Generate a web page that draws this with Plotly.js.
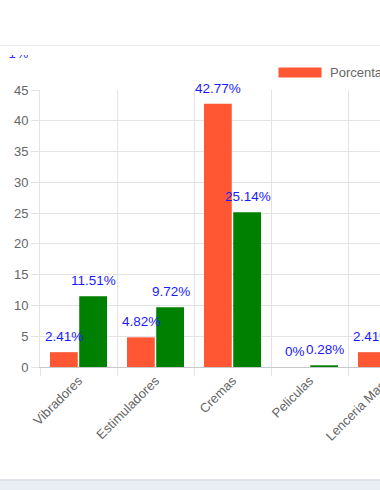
<!DOCTYPE html>
<html>
<head>
<meta charset="utf-8">
<script src="https://cdn.plot.ly/plotly-3.0.1.min.js"></script>
<style>
html,body{margin:0;padding:0;background:#fff;width:380px;height:490px;overflow:hidden;position:relative;}
#topline{position:absolute;left:0;top:45px;width:380px;height:1px;background:#ebebeb;}
#frag{position:absolute;left:5px;top:55px;width:30px;height:5px;overflow:hidden;}
#frag span{position:absolute;top:-9px;left:0;color:#3333ff;font:13px "Liberation Sans",Arial,sans-serif;letter-spacing:1px;}
#botline{position:absolute;left:0;top:479px;width:380px;height:2px;background:#dfe3e8;}
#band{position:absolute;left:0;top:481px;width:380px;height:9px;background:#e9eef5;}
#chart{position:absolute;left:0;top:0;width:460px;height:478px;}
</style>
</head>
<body>
<div id="topline"></div>
<div id="frag"><span>'1%</span></div>
<div id="chart"></div>
<div id="botline"></div>
<div id="band"></div>
<script>
var categories = ["Vibradores", "Estimuladores", "Cremas", "Peliculas", "Lenceria Masc"];
var seriesNames = ["Porcentaje de ventas", "Porcentaje de búsquedas"];
var ventas = [2.41, 4.82, 42.77, 0, 2.41];
var busquedas = [11.51, 9.72, 25.14, 0.28, null];
var yTicks = [0, 5, 10, 15, 20, 25, 30, 35, 40, 45];

var W = 460, H = 478, L = 40, R = 35, T = 90, B = 111;
var orange = "#ff5733", green = "#008000";

var traces = [
  {type: "bar", name: seriesNames[0], x: categories, y: ventas, marker: {color: orange}, hoverinfo: "none"},
  {type: "bar", name: seriesNames[1], x: categories, y: busquedas, marker: {color: green}, hoverinfo: "none"}
];

var annotations = [];
function addLabels(vals, shift) {
  vals.forEach(function (v, i) {
    if (v === null) return;
    annotations.push({
      x: categories[i], y: v, xref: "x", yref: "y", text: v + "%",
      showarrow: false, xanchor: "center", yanchor: "bottom", xshift: shift, yshift: 6,
      font: {family: "Liberation Sans, Arial, sans-serif", size: 13.5, color: "#1a1aff"}
    });
  });
}
addLabels(ventas, -15);
addLabels(busquedas, 15);

// legend drawn manually (Chart.js style wide box)
var pw = W - L - R, ph = H - T - B;
function px(x) { return (x - L) / pw; }
function py(y) { return (H - B - y) / ph; }
var shapes = [
  {type: "rect", xref: "paper", yref: "paper", x0: px(278), x1: px(322), y0: py(78), y1: py(67),
   fillcolor: orange, line: {color: "#ffffff", width: 1}}
];
annotations.push({
  xref: "paper", yref: "paper", x: px(328), y: py(72.5), xanchor: "left", yanchor: "middle",
  text: seriesNames[0], showarrow: false,
  font: {family: "Liberation Sans, Arial, sans-serif", size: 13, color: "#666666"}
});

var layout = {
  width: W, height: H,
  margin: {l: L, r: R, t: T, b: B, pad: 0},
  paper_bgcolor: "rgba(0,0,0,0)", plot_bgcolor: "#ffffff",
  showlegend: false,
  barmode: "group", bargap: 0.24, bargroupgap: 0.05,
  font: {family: "Liberation Sans, Arial, sans-serif", size: 13, color: "#666666"},
  xaxis: {
    type: "category", tickson: "boundaries", ticks: "outside", ticklen: 8, tickcolor: "#e3e3e3",
    showgrid: true, gridcolor: "#e3e3e3", tickangle: -45,
    showline: true, linecolor: "#c8c8c8", zeroline: false,
    range: [-0.5, 4.5], tickfont: {size: 13, color: "#666666"}
  },
  yaxis: {
    range: [0, 45], tickvals: yTicks, ticktext: yTicks.map(String),
    ticks: "outside", ticklen: 8, tickcolor: "#e3e3e3",
    showgrid: true, gridcolor: "#e3e3e3", zeroline: true, zerolinecolor: "#c8c8c8",
    showline: true, linecolor: "#e3e3e3", tickfont: {size: 13, color: "#666666"}
  },
  annotations: annotations,
  shapes: shapes
};

Plotly.newPlot("chart", traces, layout, {displayModeBar: false, staticPlot: true});
</script>
</body>
</html>
